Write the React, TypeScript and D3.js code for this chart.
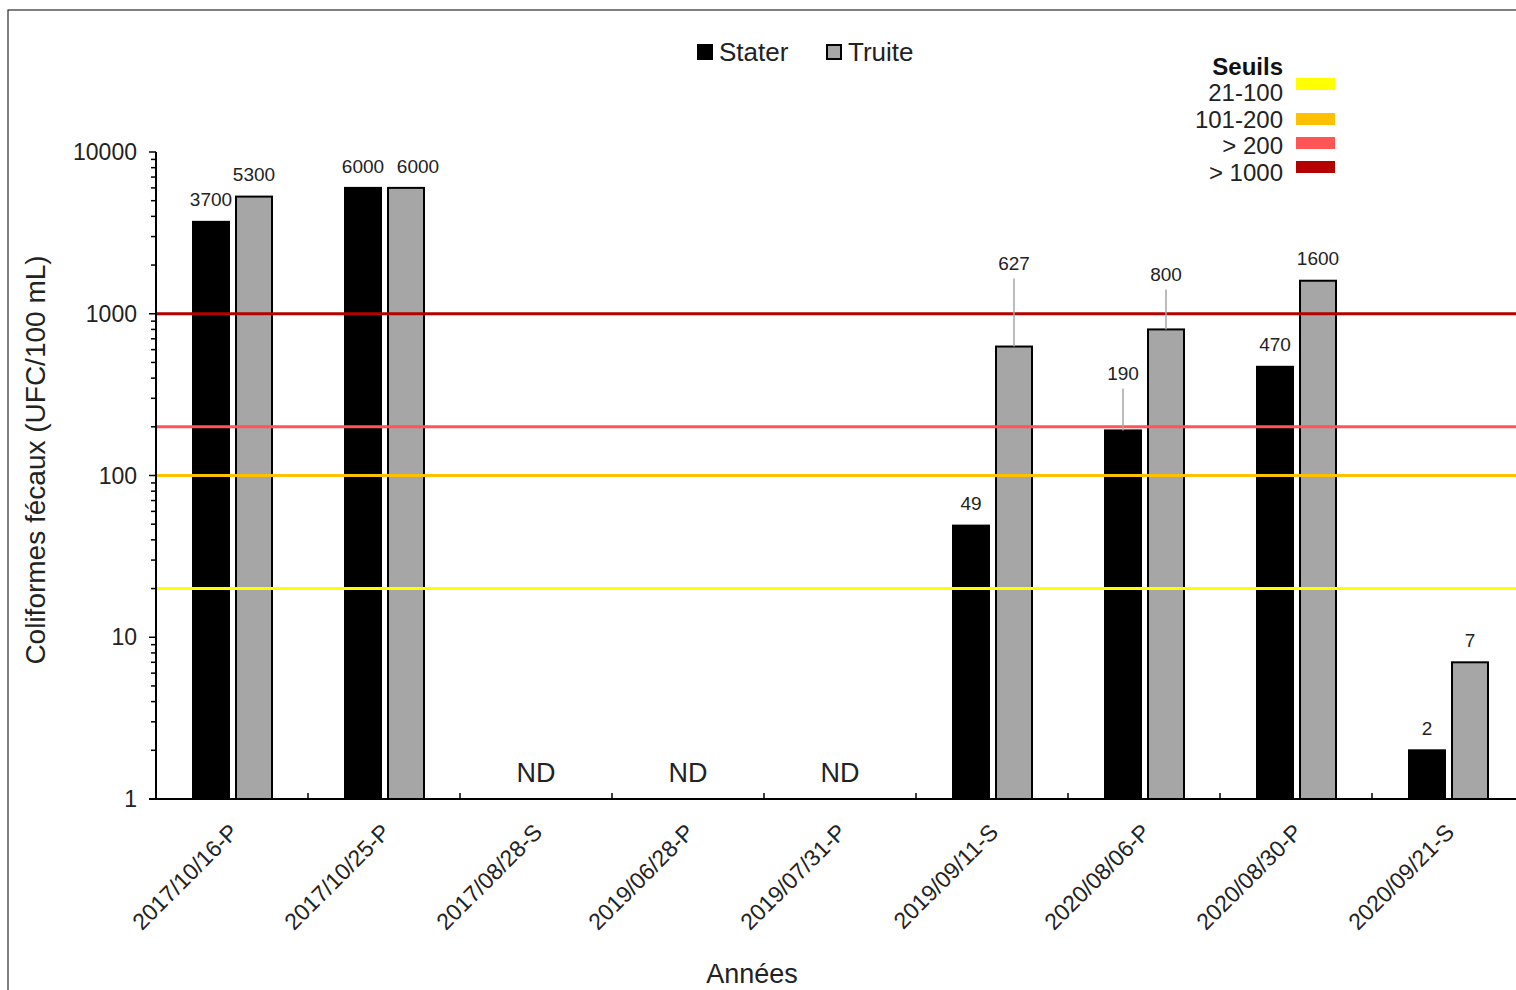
import * as d3 from "d3";

const categories = [
  "2017/10/16-P",
  "2017/10/25-P",
  "2017/08/28-S",
  "2019/06/28-P",
  "2019/07/31-P",
  "2019/09/11-S",
  "2020/08/06-P",
  "2020/08/30-P",
  "2020/09/21-S",
];
const series = ["Stater", "Truite"];
const stater = [3700, 6000, null, null, null, 49, 190, 470, 2];
const truite = [5300, 6000, null, null, null, 627, 800, 1600, 7];
const yTicks = [1, 10, 100, 1000, 10000];

const seuilValues = [20, 100, 200, 1000];
const seuilLabels = ["21-100", "101-200", "> 200", "> 1000"];
const seuilColors = ["#ffff00", "#ffc000", "#ff5555", "#b50000"];

const W = 1516, H = 990;
const FONT = "'Liberation Sans', Arial, sans-serif";
const fills = ["#000000", "#a6a6a6"];

// a few labels sit higher with a leader line, like in Excel
const lift: Record<string, number> = { "1-5": 61, "1-6": 33, "0-6": 35 };
const shiftX: Record<string, number> = { "1-1": 12 };

export default function App() {
  const x = d3.scaleBand<string>().domain(categories).range([156, 156 + 152 * 9]);
  const y = d3.scaleLog().domain([1, 10000]).range([799, 152]);
  const inner = d3.scaleBand<string>().domain(series).range([-39, 40]).paddingInner(0.163);

  const minor: number[] = [];
  for (let d = 1; d < 10000; d *= 10) for (let k = 2; k < 10; k++) minor.push(d * k);

  const values = [stater, truite];

  return (
    <svg width={W} height={H} style={{ position: "absolute", left: 0, top: 0, background: "#fff" }}>
      <rect x={8} y={10} width={W + 20} height={H + 20} fill="#fff" stroke="#000" strokeWidth={1} />

      {/* bars */}
      {values.map((vals, si) =>
        vals.map((v, i) => {
          if (v == null) return null;
          const cx = x(categories[i])! + x.bandwidth() / 2;
          const bx = cx + inner(series[si])!;
          return (
            <rect
              key={`b${si}-${i}`}
              x={bx}
              y={y(v)}
              width={inner.bandwidth()}
              height={y(1) - y(v)}
              fill={fills[si]}
              stroke="#000"
              strokeWidth={2}
            />
          );
        })
      )}

      {/* threshold lines */}
      {seuilValues.map((s, i) => (
        <line key={`s${i}`} x1={157} x2={W} y1={y(s)} y2={y(s)} stroke={seuilColors[i]} strokeWidth={3} />
      ))}

      {/* data labels */}
      {values.map((vals, si) =>
        vals.map((v, i) => {
          if (v == null) return null;
          const key = `${si}-${i}`;
          const cx = x(categories[i])! + x.bandwidth() / 2 + inner(series[si])! + inner.bandwidth() / 2;
          const top = y(v);
          const extra = lift[key] || 0;
          const ly = top - 22 - extra;
          return (
            <g key={`l${key}`}>
              {extra > 0 && (
                <line x1={cx} x2={cx} y1={ly + 15} y2={top} stroke="#a6a6a6" strokeWidth={1.5} />
              )}
              <text
                x={cx + (shiftX[key] || 0)}
                y={ly}
                dy="0.35em"
                textAnchor="middle"
                fontFamily={FONT}
                fontSize={19}
                fill="#222"
              >
                {v}
              </text>
            </g>
          );
        })
      )}

      {/* ND */}
      {categories.map((c, i) =>
        stater[i] == null && truite[i] == null ? (
          <text
            key={`nd${i}`}
            x={x(c)! + x.bandwidth() / 2}
            y={773}
            dy="0.35em"
            textAnchor="middle"
            fontFamily={FONT}
            fontSize={27}
            fill="#222"
          >
            ND
          </text>
        ) : null
      )}

      {/* y axis */}
      <line x1={156} x2={156} y1={y(10000)} y2={y(1)} stroke="#000" strokeWidth={2} />
      {minor.map((m) => (
        <line key={`m${m}`} x1={151} x2={156} y1={y(m)} y2={y(m)} stroke="#000" strokeWidth={1.5} />
      ))}
      {yTicks.map((t) => (
        <g key={`t${t}`}>
          <line x1={149} x2={156} y1={y(t)} y2={y(t)} stroke="#000" strokeWidth={1.5} />
          <text x={137} y={y(t)} dy="0.35em" textAnchor="end" fontFamily={FONT} fontSize={23} fill="#222">
            {t}
          </text>
        </g>
      ))}

      {/* x axis */}
      <line x1={149} x2={W} y1={y(1)} y2={y(1)} stroke="#000" strokeWidth={2} />
      {categories.slice(1).map((c) => (
        <line key={`xt${c}`} x1={x(c)!} x2={x(c)!} y1={y(1)} y2={y(1) - 6} stroke="#000" strokeWidth={1.5} />
      ))}
      {categories.map((c) => {
        const cx = x(c)! + x.bandwidth() / 2;
        return (
          <text
            key={`xl${c}`}
            transform={`translate(${cx + 2},${828}) rotate(-45)`}
            textAnchor="end"
            dy="0.35em"
            fontFamily={FONT}
            fontSize={23}
            fill="#222"
          >
            {c}
          </text>
        );
      })}

      {/* axis titles */}
      <text x={752} y={974} dy="0.35em" textAnchor="middle" fontFamily={FONT} fontSize={27} fill="#222">
        Années
      </text>
      <text
        transform={`translate(35,460) rotate(-90)`}
        dy="0.35em"
        textAnchor="middle"
        fontFamily={FONT}
        fontSize={28}
        fill="#222"
      >
        Coliformes fécaux (UFC/100 mL)
      </text>

      {/* series legend */}
      {series.map((s, i) => {
        const lx = [698, 827][i];
        return (
          <g key={`lg${s}`}>
            <rect x={lx} y={45} width={14} height={14} fill={fills[i]} stroke="#000" strokeWidth={2} />
            <text x={lx + 21} y={52} dy="0.35em" fontFamily={FONT} fontSize={26} fill="#222">
              {s}
            </text>
          </g>
        );
      })}

      {/* thresholds legend */}
      <text x={1283} y={67} dy="0.35em" textAnchor="end" fontFamily={FONT} fontSize={24} fontWeight="bold" fill="#111">
        Seuils
      </text>
      {seuilLabels.map((l, i) => {
        const ty = [93, 120, 146, 173][i];
        const ry = [78, 113, 137, 161][i];
        return (
          <g key={`sl${i}`}>
            <text x={1283} y={ty} dy="0.35em" textAnchor="end" fontFamily={FONT} fontSize={24} fill="#222">
              {l}
            </text>
            <rect x={1296} y={ry} width={39} height={12} fill={seuilColors[i]} />
          </g>
        );
      })}
    </svg>
  );
}
